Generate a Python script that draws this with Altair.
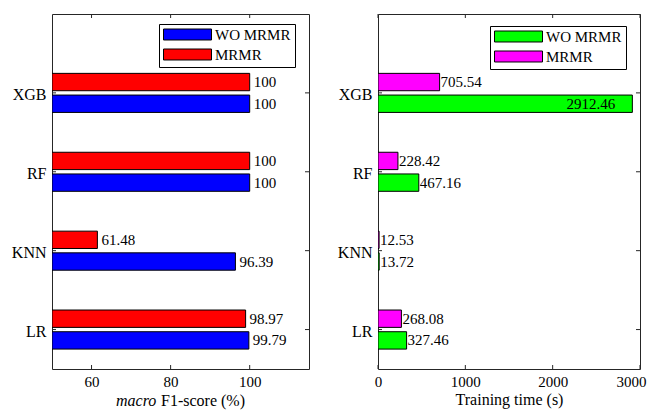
import altair as alt
import pandas as pd

# ---- data ----
models = ["LR", "KNN", "RF", "XGB"]
methods = ["WO MRMR", "MRMR"]
f1_wo = [99.79, 96.39, 100, 100]
f1_mrmr = [98.97, 61.48, 100, 100]
time_wo = [327.46, 13.72, 467.16, 2912.46]
time_mrmr = [268.08, 12.53, 228.42, 705.54]

f1_ticks = [60, 80, 100]
time_ticks = [0, 1000, 2000, 3000]
f1_title_italic = "macro"
f1_title_rest = "F1-score (%)"
time_title = "Training time (s)"

FONT = "Liberation Serif"
FRAME = "#262626"
W1, W2, H = 257, 262, 355
OFF, HALF = 0.1375, 0.11


def make_df(wo, mrmr, base):
    rows = []
    for i, m in enumerate(models):
        pos = i + 1
        for meth, vals, off in (("WO MRMR", wo, -OFF), ("MRMR", mrmr, OFF)):
            v = vals[i]
            rows.append(dict(model=m, method=meth, value=v, base=base,
                             y=pos + off - HALF, y2=pos + off + HALF,
                             yc=pos + off, label=f"{v:g}"))
    return pd.DataFrame(rows)


label_expr = "[" + ",".join(f"'{m}'" for m in models) + "][datum.value - 1]"


def panel(df, xdom, xticks, colors, W, lx, ly, xtitle, dx, inside=None):
    xs = alt.Scale(domain=xdom, nice=False, zero=False)
    ys = alt.Scale(domain=[0.5, 5], nice=False, zero=False)
    last = xdom[1]
    xaxis = alt.Axis(values=xticks, format="d", labelFontSize=15, labelPadding=5,
                     labelFlush=False,
                     labelAlign={"condition": {"test": f"datum.value >= {last}",
                                               "value": "right"},
                                 "value": "center"},
                     labelOffset={"condition": {"test": f"datum.value >= {last}",
                                                "value": 6},
                                  "value": 0},
                     title=xtitle if xtitle else None, titleFont=FONT,
                     titleFontSize=16, titleFontWeight="normal",
                     titleColor="black", titlePadding=2)
    yaxis = alt.Axis(values=[1, 2, 3, 4], labelExpr=label_expr, title=None,
                     labelFontSize=16, labelPadding=6, labelOffset=2)
    base = alt.Chart(df)
    bars = base.mark_bar(stroke="black", strokeWidth=1, clip=True).encode(
        x=alt.X("base:Q", scale=xs, axis=xaxis),
        x2="value:Q",
        y=alt.Y("y:Q", scale=ys, axis=yaxis),
        y2="y2:Q",
        color=alt.Color("method:N",
                        scale=alt.Scale(domain=methods, range=colors),
                        legend=alt.Legend(
                            title=None, orient="none", legendX=lx, legendY=ly,
                            direction="vertical",
                            symbolType="M-1,-0.229H1V0.229H-1Z",
                            symbolSize=2304, symbolStrokeColor="black",
                            symbolStrokeWidth=1, symbolOpacity=1,
                            clipHeight=13, rowPadding=4,
                            labelFont=FONT, labelFontSize=15,
                            labelColor="black", labelOffset=3,
                            fillColor="white", strokeColor="black",
                            padding=4)),
    )
    outside = base
    if inside is not None:
        outside = base.transform_filter(alt.datum.value < inside)
    labels = outside.mark_text(align="left", baseline="middle", dx=dx,
                               font=FONT, fontSize=15, color="black").encode(
        x=alt.X("value:Q", scale=xs, axis=xaxis),
        y=alt.Y("yc:Q", scale=ys, axis=yaxis),
        text="label:N")
    layers = [bars, labels]
    if inside is not None:
        layers.append(base.transform_filter(alt.datum.value >= inside)
                      .mark_text(align="right", baseline="middle", dx=-17,
                                 font=FONT, fontSize=15, color="black")
                      .encode(x=alt.X("value:Q", scale=xs, axis=xaxis),
                              y=alt.Y("yc:Q", scale=ys, axis=yaxis),
                              text="label:N"))
    xt = alt.Chart(pd.DataFrame({"t": xticks}))
    yt = alt.Chart(pd.DataFrame({"t": [1, 2, 3, 4]}))
    for a, b in ((0, 4), (H, H - 4)):
        layers.append(xt.mark_rule(color=FRAME).encode(
            x=alt.X("t:Q", scale=xs, axis=xaxis), y=alt.value(a), y2=alt.value(b)))
    for a, b in ((0, 4), (W, W - 4)):
        layers.append(yt.mark_rule(color=FRAME).encode(
            y=alt.Y("t:Q", scale=ys, axis=yaxis), x=alt.value(a), x2=alt.value(b)))
    return alt.layer(*layers).properties(width=W, height=H)


left = panel(make_df(f1_wo, f1_mrmr, 50), [50, 115], f1_ticks,
             ["#0000FF", "#FF0000"], W1, 107, 10, None, 4)
title_a = alt.Chart(pd.DataFrame({"s": [f1_title_italic]})).mark_text(
    align="left", baseline="middle", font=FONT, fontSize=16,
    fontStyle="italic", color="black").encode(
    x=alt.value(64), y=alt.value(H + 32), text="s:N")
title_b = alt.Chart(pd.DataFrame({"s": [f1_title_rest]})).mark_text(
    align="left", baseline="middle", font=FONT, fontSize=16,
    color="black").encode(x=alt.value(109), y=alt.value(H + 32), text="s:N")
left = alt.layer(left, title_a, title_b)

right = panel(make_df(time_wo, time_mrmr, 0), [0, 3000], time_ticks,
              ["#00FF00", "#FF00FF"], W2, 112, 12, time_title, 1, inside=2500)

chart = alt.hconcat(left, right, spacing=26).resolve_scale(
    color="independent").resolve_legend(color="independent").properties(
    padding={"left": 2, "top": 5, "right": 0, "bottom": 0}
).configure_view(stroke=FRAME, strokeWidth=1).configure_axis(
    labelFont=FONT, labelColor="black", domain=False, ticks=False, grid=False)

chart.save("out.html", embed_options={"renderer": "svg", "actions": False})
